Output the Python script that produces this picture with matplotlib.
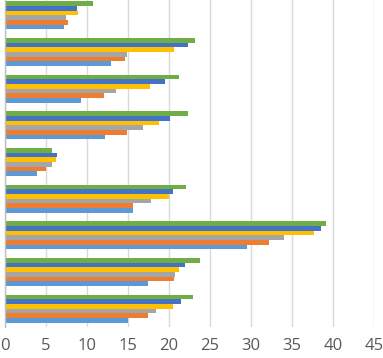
import matplotlib
matplotlib.use("Agg")
import matplotlib.pyplot as plt
import numpy as np

# Categories bottom-to-top (9 groups, no labels shown)
categories = list(range(9))
series_names = ["S1", "S2", "S3", "S4", "S5", "S6"]
colors = ["#5B9BD5", "#ED7D31", "#A5A5A5", "#FFC000", "#4472C4", "#70AD47"]

s1 = [15.1, 17.5, 29.5, 15.6, 3.9, 12.3, 9.3, 13.0, 7.2]
s2 = [17.5, 20.7, 32.2, 15.7, 5.0, 14.9, 12.1, 14.7, 7.7]
s3 = [18.4, 20.8, 34.0, 17.9, 5.75, 16.9, 13.6, 14.9, 7.5]
s4 = [20.5, 21.3, 37.7, 20.0, 6.3, 18.8, 17.7, 20.7, 9.0]
s5 = [21.5, 22.0, 38.6, 20.5, 6.4, 20.2, 19.5, 22.4, 8.8]
s6 = [22.9, 23.8, 39.2, 22.1, 5.75, 22.3, 21.3, 23.2, 10.8]
series = [s1, s2, s3, s4, s5, s6]

xticks = [0, 5, 10, 15, 20, 25, 30, 35, 40, 45]

W, H = 383, 358
fig = plt.figure(figsize=(W / 100, H / 100), dpi=100)
# axes in pixel coords: left 4.5, right 374, bottom y=327 from top, top y=-3
left, right = 4.5 / W, 374 / W
bottom = 1 - 327 / H
top = 1 + 3 / H
ax = fig.add_axes([left, bottom, right - left, top - bottom])

n = len(series)
group_w = 0.77
bh = group_w / n
y = np.arange(len(categories))
for i, (vals, c) in enumerate(zip(series, colors)):
    offs = -group_w / 2 + bh * (i + 0.5)
    ax.barh(y + offs, vals, height=bh, color=c, zorder=3, linewidth=0)

ax.set_xlim(0, 45)
ax.set_ylim(-0.5, 8.5)
ax.set_xticks(xticks)
ax.set_xticklabels([str(t) for t in xticks], fontsize=12, color="#595959",
                   family=["Open Sans", "DejaVu Sans"])
ax.set_yticks([])
ax.tick_params(axis="x", length=0, pad=8)
ax.grid(axis="x", color="#D9D9D9", linewidth=1, zorder=0)
for s in ["top", "right", "bottom"]:
    ax.spines[s].set_visible(False)
ax.spines["left"].set_color("#BFBFBF")
ax.spines["left"].set_linewidth(1)
ax.spines["left"].set_zorder(4)

fig.savefig("out.png", dpi=100)
